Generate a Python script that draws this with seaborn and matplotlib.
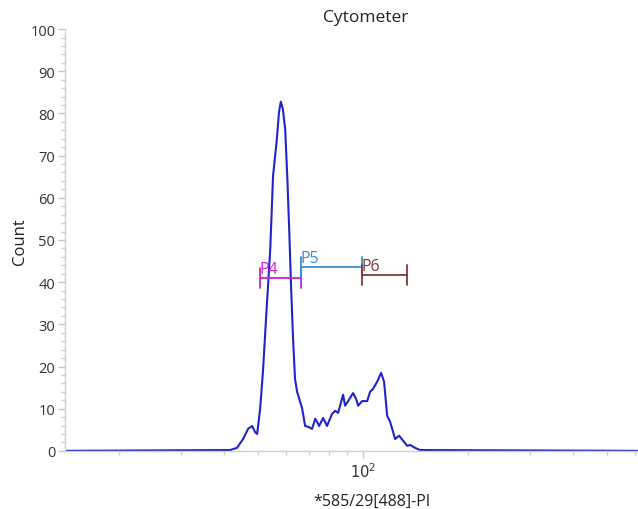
import numpy as np
import pandas as pd
import matplotlib
matplotlib.use("Agg")
import matplotlib.pyplot as plt
import seaborn as sns
from matplotlib.ticker import FixedLocator, NullFormatter, FixedFormatter

# PI fluorescence channel (log scale) and event counts
channel = [14.0, 41.6, 43.5, 45.3, 46.8, 48.1, 49.0, 49.7, 50.7, 51.7, 52.7,
           54.2, 55.2, 56.6, 57.4, 58.1, 58.9, 59.8, 60.7, 61.4, 62.2, 63.0,
           63.8, 64.7, 66.9, 68.2, 69.6, 71.4, 72.9, 73.8, 74.8, 76.8, 77.8,
           78.8, 81.5, 83.2, 84.8, 86.5, 87.6, 88.8, 90.6, 93.6, 95.5, 96.8,
           99.3, 102.7, 104.7, 106.8, 109.7, 112.6, 114.8, 117.2, 119.5,
           123.5, 126.8, 130.2, 133.7, 136.4, 140.9, 145.6, 620.0]
count = [0.0, 0.2, 0.7, 2.8, 5.2, 5.9, 4.5, 4.0, 10.0, 19.4, 31.3,
         47.9, 65.2, 73.9, 80.3, 82.8, 81.0, 76.3, 64.0, 52.6, 38.4, 26.5,
         17.1, 14.0, 10.0, 5.9, 5.7, 5.2, 7.6, 6.9, 5.9, 7.8, 6.9,
         5.9, 8.8, 9.5, 9.0, 11.6, 13.3, 10.7, 11.8, 13.7, 12.3, 10.7,
         11.8, 11.8, 14.0, 14.7, 16.4, 18.5, 16.4, 8.3, 6.9,
         2.8, 3.6, 2.4, 1.2, 1.4, 0.7, 0.2, 0.0]

# Gates: name, lower bound, upper bound, bar height, colour
gate_names = ["P4", "P5", "P6"]
gate_lo = [50.7, 66.4, 99.5]
gate_hi = [66.4, 99.5, 133.7]
gate_y = [41.0, 43.6, 41.7]
gate_colors = ["#cc22cc", "#3a8dcc", "#7b3b3b"]

yticks = list(range(0, 101, 10))

sns.set_style("ticks")
plt.rcParams["font.family"] = ["Open Sans", "DejaVu Sans"]

fig = plt.figure(figsize=(6.38, 5.10), dpi=100)
ax = fig.add_axes([0.102, 0.114, 0.898, 0.827])

df = pd.DataFrame({"channel": channel, "count": count})
sns.lineplot(data=df, x="channel", y="count", ax=ax, color="#2222cc",
             linewidth=1.5, sort=False, estimator=None)

ax.set_xscale("log")
ax.set_xlim(14.0, 613)
ax.set_ylim(0, 100)

# gate bars with end caps
for name, lo, hi, y, c in zip(gate_names, gate_lo, gate_hi, gate_y, gate_colors):
    ax.plot([lo, hi], [y, y], color=c, linewidth=1.3)
    ax.plot([lo, lo], [y - 2.3, y + 2.3], color=c, linewidth=1.3)
    ax.plot([hi, hi], [y - 2.3, y + 2.3], color=c, linewidth=1.3)
    ax.text(lo * 0.995, y + 0.3, name, color=c, fontsize=11.5,
            ha="left", va="bottom")

for side in ["top", "right"]:
    ax.spines[side].set_visible(False)
for side in ["left", "bottom"]:
    ax.spines[side].set_color("#cfcfcf")
    ax.spines[side].set_linewidth(1.0)

ax.yaxis.set_major_locator(FixedLocator(yticks))
ax.set_yticklabels([str(v) for v in yticks])
ax.yaxis.set_minor_locator(FixedLocator([v for v in range(0, 101, 2) if v % 10]))
ax.xaxis.set_major_locator(FixedLocator([100]))
ax.xaxis.set_major_formatter(FixedFormatter([r"$10^2$"]))
ax.xaxis.set_minor_locator(FixedLocator([20, 30, 40, 50, 60, 70, 80, 90,
                                         200, 300, 400, 500, 600]))
ax.xaxis.set_minor_formatter(NullFormatter())

ax.tick_params(axis="both", which="both", bottom=True, left=True)
ax.tick_params(axis="both", which="major", direction="out", length=5,
               width=1, color="#c8c8c8", labelcolor="#333333", labelsize=10.5)
ax.tick_params(axis="both", which="minor", direction="out", length=3,
               width=1, color="#d0d0d0")
ax.tick_params(axis="y", which="major", pad=2)
ax.tick_params(axis="x", which="major", pad=3)

ax.set_xlabel("*585/29[488]-PI", fontsize=11.5, color="#222222")
ax.xaxis.set_label_coords(0.536, -0.0995)
ax.set_ylabel("Count", fontsize=12, color="#222222")
ax.yaxis.set_label_coords(-0.064, 0.498)
ax.text(0.524, 1.028, "Cytometer", transform=ax.transAxes, fontsize=12.5,
        color="#222222", ha="center", va="center")

fig.savefig("out.png", dpi=100)
